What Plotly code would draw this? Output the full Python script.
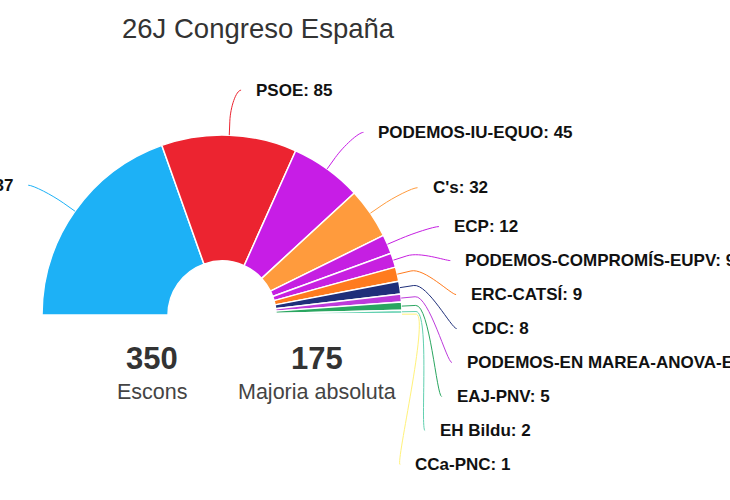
import numpy as np
import plotly.graph_objects as go

# Resultats 26J - Congreso
partidos = ['PP', 'PSOE', 'PODEMOS-IU-EQUO', "C's", 'ECP', 'PODEMOS-COMPROMÍS-EUPV',
            'ERC-CATSÍ', 'CDC', 'PODEMOS-EN MAREA-ANOVA-EU', 'EAJ-PNV', 'EH Bildu', 'CCa-PNC']
escons = [137, 85, 45, 32, 12, 9, 9, 8, 5, 5, 2, 1]
colores = ['#1DB1F6', '#EC2430', '#C71DE6', '#FF9B3D', '#C51FE2', '#C720E0',
           '#FF7B1E', '#1F2F7A', '#BD3BDB', '#2AA660', '#62D0B0', '#FFF27A']

titulo = '26J Congreso España'
txt_escons = 'Escons'
txt_majoria = 'Majoria absoluta'

# geometria (pixels)
W, H = 730, 500
CX, CY, R = 222, 315, 180
R_LAB = 225
GAP = 34
SHIFT = 14
FONT = 'Liberation Sans'

total = sum(escons)
majoria = total // 2


def px(x):
    return x / W


def py(y):
    return 1 - y / H


fig = go.Figure()

# semicercle: afegim una porcio invisible de la mateixa mida que el total
fig.add_trace(go.Pie(
    values=escons + [total],
    labels=partidos + [''],
    marker=dict(colors=colores + ['rgba(0,0,0,0)'],
                line=dict(color='white', width=[1.5] * len(escons) + [0])),
    sort=False,
    direction='clockwise',
    rotation=-90,
    hole=0.3,
    textinfo='none',
    hoverinfo='skip',
    showlegend=False,
    domain=dict(x=[px(CX - R), px(CX + R)], y=[py(CY + R), py(CY - R)]),
))

# posicio de les etiquetes
cum = np.cumsum(escons)
theta = np.pi * (cum - np.array(escons) / 2) / total

shapes = []
annotations = []
prev_y = -1e9
for nom, v, col, th in zip(partidos, escons, colores, theta):
    dx, dy = -np.cos(th), -np.sin(th)
    left = th < np.pi / 2
    y_lab = CY + R_LAB * dy
    if not left:
        y_lab = max(y_lab, prev_y + GAP)
        prev_y = y_lab
    off = np.sqrt(max(R_LAB ** 2 - (y_lab - CY) ** 2, 0))
    x_lab = CX - off if left else CX + off
    sgn = -1 if left else 1

    ex, ey = x_lab + sgn * 10, y_lab
    tx, ty = CX + dx * R, CY + dy * R
    bx, by = CX + dx * (R + SHIFT), CY + dy * (R + SHIFT)
    c2x, c2y = 2 * bx - tx, 2 * by - ty
    path = (f'M {px(ex)},{py(ey)} C {px(ex - sgn * 5)},{py(ey)} '
            f'{px(c2x)},{py(c2y)} {px(bx)},{py(by)} L {px(tx)},{py(ty)}')
    shapes.append(dict(type='path', path=path, xref='paper', yref='paper',
                       line=dict(color=col, width=1)))

    annotations.append(dict(
        x=px(x_lab + sgn * 23), y=py(y_lab), xref='paper', yref='paper',
        text=f'<b>{nom}: {v}</b>', showarrow=False,
        xanchor='right' if left else 'left', yanchor='middle',
        font=dict(family=FONT, size=17, color='#111111'),
    ))

# titol i textos centrals
annotations += [
    dict(x=px(120), y=py(28), text=titulo, xanchor='left', yanchor='middle',
         font=dict(family=FONT, size=27.5, color='#333333')),
    dict(x=px(152), y=py(358), text=f'<b>{total}</b>', xanchor='center', yanchor='middle',
         font=dict(family=FONT, size=31, color='#333333')),
    dict(x=px(152), y=py(392), text=txt_escons, xanchor='center', yanchor='middle',
         font=dict(family=FONT, size=21.5, color='#444444')),
    dict(x=px(317), y=py(358), text=f'<b>{majoria}</b>', xanchor='center', yanchor='middle',
         font=dict(family=FONT, size=31, color='#333333')),
    dict(x=px(317), y=py(392), text=txt_majoria, xanchor='center', yanchor='middle',
         font=dict(family=FONT, size=21.5, color='#444444')),
]
for a in annotations[-5:]:
    a.update(xref='paper', yref='paper', showarrow=False)

fig.update_layout(
    width=W, height=H,
    margin=dict(l=0, r=0, t=0, b=0),
    paper_bgcolor='white',
    plot_bgcolor='white',
    shapes=shapes,
    annotations=annotations,
)

# sense el marge per defecte del body ni la barra d'eines
fig.write_html('out.html', config={'displayModeBar': False},
               post_script="document.body.style.margin='0';")
